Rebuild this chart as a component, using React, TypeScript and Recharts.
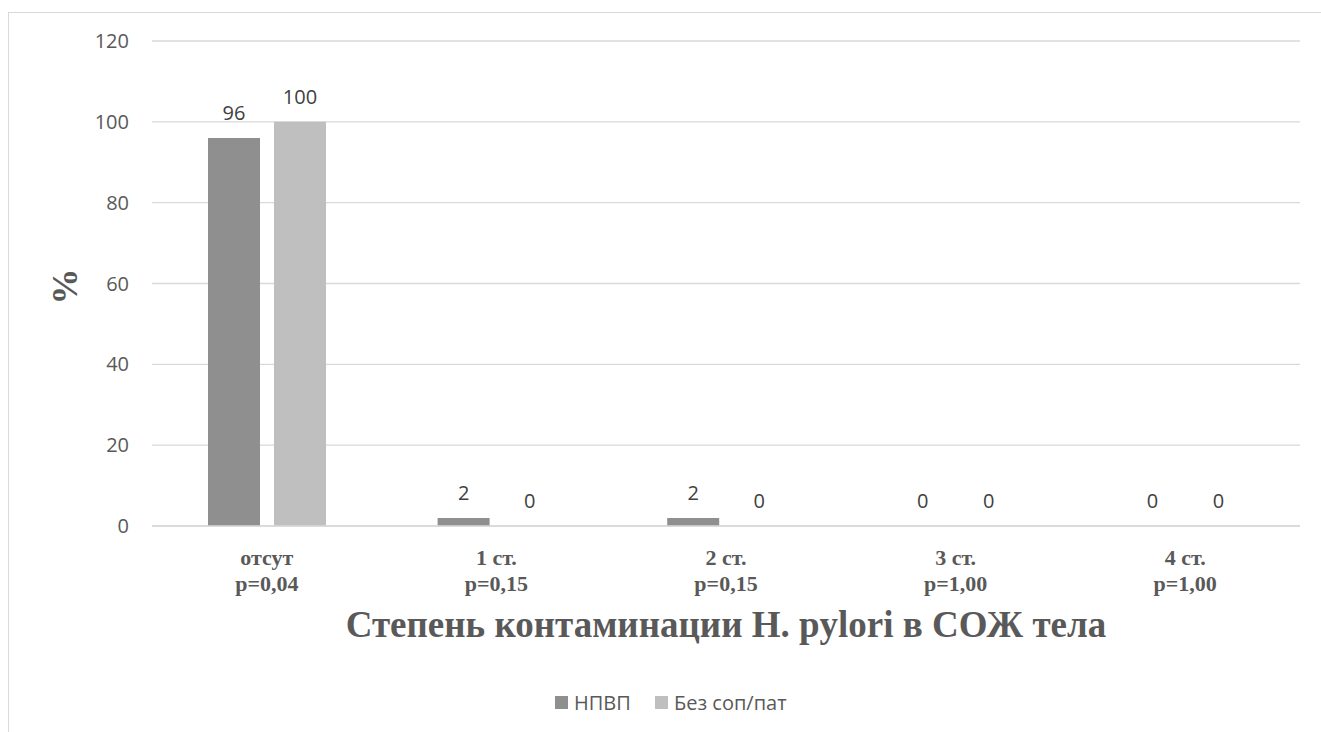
import { Bar, BarChart, CartesianGrid, LabelList, Legend, XAxis, YAxis } from 'recharts';

// Degree of H. pylori contamination, body mucosa
const grades = ['отсут', '1 ст.', '2 ст.', '3 ст.', '4 ст.'];
const pValues = ['p=0,04', 'p=0,15', 'p=0,15', 'p=1,00', 'p=1,00'];
const nsaidValues = [96, 2, 2, 0, 0];
const controlValues = [100, 0, 0, 0, 0];
const yTicks = [0, 20, 40, 60, 80, 100, 120];

const series = [
  { key: 'nsaid', name: 'НПВП', color: '#8f8f8f' },
  { key: 'control', name: 'Без соп/пат', color: '#bfbfbf' },
];

const data = grades.map((grade, i) => ({
  grade,
  p: pValues[i],
  nsaid: nsaidValues[i],
  control: controlValues[i],
}));

const TEXT = '#595959';
const SERIF = '"Liberation Serif", "Times New Roman", serif';
const SANS = '"Open Sans", "Liberation Sans", sans-serif';

// zero bars still need a rect so their value label gets drawn
const keepZero = (value: any) => (value === 0 ? 0.01 : 0);

function GradeTick(props: any) {
  const { x, y, payload, index } = props;
  return (
    <text x={x} textAnchor="middle" fill={TEXT} fontFamily={SERIF} fontWeight="bold" fontSize={22}>
      <tspan x={x} y={y + 38.5}>{payload.value}</tspan>
      <tspan x={x} y={y + 64.5}>{pValues[index]}</tspan>
    </text>
  );
}

function AxisTitle(props: any) {
  const { viewBox } = props;
  return (
    <text
      x={viewBox.x + viewBox.width / 2}
      y={viewBox.y + 110.5}
      textAnchor="middle"
      fill={TEXT}
      fontFamily={SERIF}
      fontWeight="bold"
      fontSize={37}
    >
      Степень контаминации H. pylori в СОЖ тела
    </text>
  );
}

function PercentLabel(props: any) {
  const { viewBox } = props;
  const cx = viewBox.x + 65;
  const cy = viewBox.y + viewBox.height / 2 + 3;
  return (
    <text
      x={cx}
      y={cy}
      transform={`rotate(-90, ${cx}, ${cy})`}
      textAnchor="middle"
      dominantBaseline="central"
      fill={TEXT}
      fontFamily={SERIF}
      fontWeight="bold"
      fontSize={36}
    >
      %
    </text>
  );
}

function SeriesLegend() {
  const starts = [555, 655];
  return (
    <div style={{ position: 'relative', width: 1321, height: 30 }}>
      {series.map((s, i) => (
        <div
          key={s.key}
          style={{
            position: 'absolute',
            left: starts[i],
            top: 0,
            height: 30,
            display: 'flex',
            alignItems: 'center',
            fontFamily: SANS,
            fontSize: 20,
            color: TEXT,
            whiteSpace: 'nowrap',
          }}
        >
          <span style={{ width: 13, height: 13, background: s.color, marginRight: 6 }} />
          {s.name}
        </div>
      ))}
    </div>
  );
}

export default function App() {
  return (
    <div style={{ position: 'relative', width: 1321, height: 732, overflow: 'hidden', background: '#fff' }}>
      <style>{'body { margin: 0; }'}</style>
      <div
        style={{
          position: 'absolute',
          left: 8,
          top: 12,
          width: 1330,
          height: 740,
          border: '1px solid #d9d9d9',
        }}
      />
      <BarChart
        width={1321}
        height={732}
        data={data}
        margin={{ top: 41, right: 21, left: 0, bottom: 15 }}
        barGap={14}
        barSize={52}
      >
        <CartesianGrid vertical={false} stroke="#d9d9d9" strokeWidth={1.3} />
        <XAxis
          dataKey="grade"
          height={161}
          axisLine={{ stroke: '#d9d9d9', strokeWidth: 1.3 }}
          tickLine={false}
          tickSize={0}
          tickMargin={0}
          interval={0}
          tick={<GradeTick />}
          label={<AxisTitle />}
        />
        <YAxis
          width={152}
          domain={[0, 120]}
          ticks={yTicks}
          axisLine={false}
          tickLine={false}
          tickSize={0}
          tickMargin={23}
          tick={{ fill: TEXT, fontFamily: SANS, fontSize: 20 }}
          label={<PercentLabel />}
        />
        <Legend
          verticalAlign="bottom"
          wrapperStyle={{ left: 0, width: 1321, bottom: 15 }}
          content={<SeriesLegend />}
        />
        {series.map((s) => (
          <Bar
            key={s.key}
            dataKey={s.key}
            name={s.name}
            fill={s.color}
            minPointSize={keepZero}
            isAnimationActive={false}
          >
            <LabelList
              dataKey={s.key}
              position="top"
              offset={18}
              fill="#404040"
              fontFamily={SANS}
              fontSize={20}
            />
          </Bar>
        ))}
      </BarChart>
    </div>
  );
}
